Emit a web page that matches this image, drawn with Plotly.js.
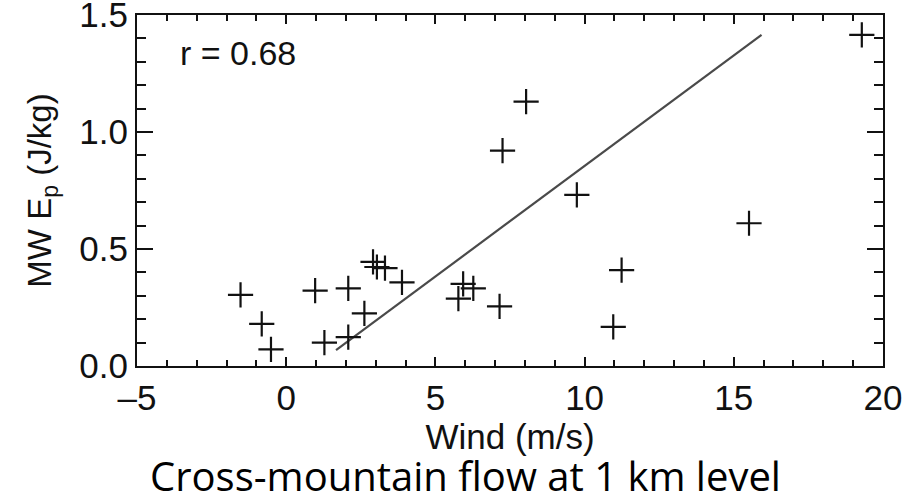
<!DOCTYPE html>
<html>
<head>
<meta charset="utf-8">
<script src="https://cdn.plot.ly/plotly-3.0.1.min.js"></script>
<style>html,body{margin:0;padding:0;background:#fff;}#chart{width:905px;height:496px;}</style>
</head>
<body>
<div id="chart"></div>
<script>
// Wind speed (m/s) and mountain-wave potential energy (J/kg)
const windSpeed = [-1.53, -0.82, -0.51, 0.97, 2.08, 2.62, 1.28, 2.08, 2.91, 3.04, 3.31, 3.88,
                   5.93, 6.27, 5.77, 7.15, 8.04, 7.25, 9.74, 10.96, 11.24, 15.51, 19.29];
const energyEp  = [0.304, 0.180, 0.071, 0.322, 0.332, 0.225, 0.100, 0.123, 0.445, 0.423, 0.418, 0.357,
                   0.351, 0.332, 0.288, 0.255, 1.130, 0.920, 0.731, 0.167, 0.410, 0.610, 1.415];
// regression line end points
const fitWind = [1.67, 15.93];
const fitEp   = [0.068, 1.415];
const correlationText = "r = 0.68";
const xTickVals = [-5, 0, 5, 10, 15, 20];
const xTickText = ["\u20135", "0", "5", "10", "15", "20"];
const yTickVals = [0, 0.5, 1.0, 1.5];
const yTickText = ["0.0", "0.5", "1.0", "1.5"];

const font = "Liberation Sans, Arial, Helvetica, sans-serif";

const traces = [
  {
    x: fitWind, y: fitEp, type: "scatter", mode: "lines",
    line: {color: "#4a4a4a", width: 2.2}, hoverinfo: "skip", showlegend: false
  },
  {
    x: windSpeed, y: energyEp, type: "scatter", mode: "markers",
    marker: {symbol: "cross-thin", size: 18, line: {color: "#111", width: 2.2}, color: "#111"},
    showlegend: false
  }
];

const axisCommon = {
  showgrid: false, zeroline: false, showline: true, linecolor: "#111", linewidth: 2,
  mirror: "ticks", ticks: "inside", tickcolor: "#111", tickwidth: 2,
  ticklabeloverflow: "allow",
  tickfont: {family: font, size: 35, color: "#111"}
};

const layout = {
  width: 905, height: 496,
  margin: {l: 137, r: 22, t: 15, b: 130},
  paper_bgcolor: "#fff", plot_bgcolor: "#fff",
  font: {family: font, color: "#111"},
  xaxis: Object.assign({}, axisCommon, {
    range: [-5, 20], tickvals: xTickVals, ticktext: xTickText, ticklen: 9,
    minor: {dtick: 1, tick0: 0, ticks: "inside", ticklen: 6, tickcolor: "#111", tickwidth: 2},
    title: {text: "Wind (m/s)", font: {family: font, size: 35, color: "#111"}, standoff: 2}
  }),
  yaxis: Object.assign({}, axisCommon, {
    range: [0, 1.5], tickvals: yTickVals, ticktext: yTickText, ticklen: 16,
    minor: {dtick: 0.1, tick0: 0, ticks: "inside", ticklen: 9, tickcolor: "#111", tickwidth: 2},
    title: {text: "MW E<sub>p</sub> (J/kg)", font: {family: font, size: 33, color: "#111"}, standoff: 18}
  }),
  annotations: [
    {
      xref: "paper", yref: "paper", x: 0.055, y: 0.892, xanchor: "left", yanchor: "middle",
      text: correlationText, showarrow: false,
      font: {family: font, size: 34, color: "#111"}
    },
    {
      xref: "paper", yref: "paper", x: 0.441, y: -0.313, xanchor: "center", yanchor: "middle",
      text: "Cross-mountain flow at 1 km level", showarrow: false,
      font: {family: "Open Sans, Noto Sans, sans-serif", size: 40, color: "#000"}
    }
  ]
};

Plotly.newPlot("chart", traces, layout, {staticPlot: true, displayModeBar: false});
</script>
</body>
</html>
